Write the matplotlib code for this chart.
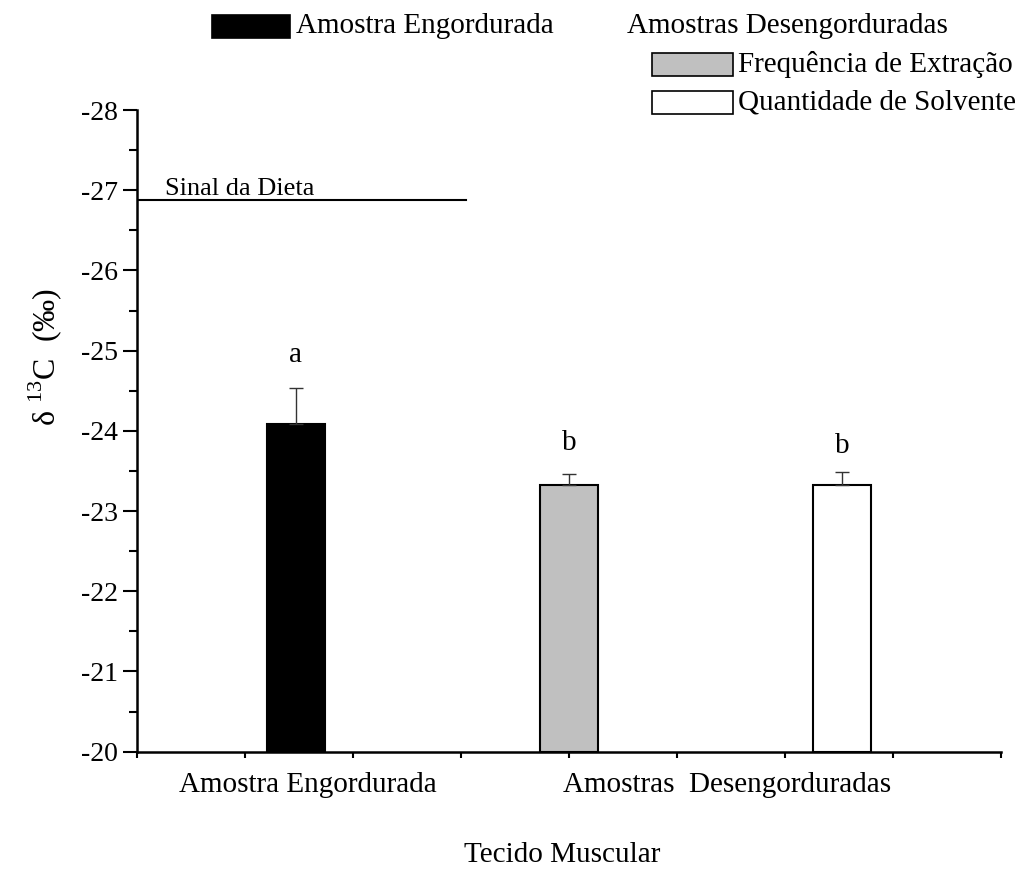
import matplotlib
matplotlib.use("Agg")
import matplotlib.pyplot as plt
from matplotlib.patches import Rectangle

plt.rcParams['font.family'] = ['Liberation Serif', 'DejaVu Serif']
plt.rcParams['mathtext.fontset'] = 'custom'
plt.rcParams['mathtext.rm'] = 'Liberation Serif'
plt.rcParams['axes.unicode_minus'] = False

# data
positions = [1.47, 4.0, 6.53]
values = [-24.08, -23.32, -23.32]
errors = [0.46, 0.14, 0.17]
colors = ['black', '#c0c0c0', 'white']
letters = ['a', 'b', 'b']
letter_y = [-24.95, -23.85, -23.81]
diet_signal = -26.88
diet_end = 3.05
group_labels = ['Amostra Engordurada', 'Amostras  Desengorduradas']
group_pos = [1.58, 5.46]
base = -20

fig = plt.figure(figsize=(10.21, 8.81), dpi=100)
ax = fig.add_axes([0.1342, 0.1468, 0.8462, 0.7283])

heights = [v - base for v in values]
ax.bar(positions, heights, bottom=base, width=0.54, color=colors,
       edgecolor='black', linewidth=1.5, zorder=2)
ax.errorbar(positions, values, yerr=[errors, [0] * 3], fmt='none',
            ecolor='#333333', elinewidth=1, capsize=5, capthick=1, zorder=3)
for x, t, y in zip(positions, letters, letter_y):
    ax.text(x, y, t, ha='center', va='center', fontsize=21)

ax.plot([0, diet_end], [diet_signal, diet_signal], color='black', lw=1.5)
ax.text(0.26, -26.94, 'Sinal da Dieta', fontsize=19, va='baseline')

ax.set_xlim(0, 8)
ax.set_ylim(-20, -28)
ax.set_yticks(range(-20, -29, -1))
ax.set_yticks([-20.5 - i for i in range(8)], minor=True)
ax.set_xticks(range(0, 9))
ax.set_xticklabels([])
ax.tick_params(axis='y', which='major', length=10, width=1.5, labelsize=20, direction='out')
ax.tick_params(axis='y', which='minor', length=6, width=1.5, direction='out')
ax.tick_params(axis='x', which='major', length=4, width=1.5, direction='out')
for s in ['top', 'right']:
    ax.spines[s].set_visible(False)
for s in ['left', 'bottom']:
    ax.spines[s].set_linewidth(1.8)

for lab, x in zip(group_labels, group_pos):
    ax.text(x, -0.052, lab, transform=ax.get_xaxis_transform(),
            ha='center', va='center', fontsize=21)

fig.text(562 / 1021, 1 - 855 / 881, 'Tecido Muscular', ha='center', va='center', fontsize=21)
fig.text(45 / 1021, 1 - 357 / 881, 'δ $^{13}$C  (‰)', rotation=90,
         ha='center', va='center', fontsize=23)

# legend
def patch(x0, y0, x1, y1, fc):
    fig.add_artist(Rectangle((x0 / 1021, 1 - y1 / 881), (x1 - x0) / 1021, (y1 - y0) / 881,
                             transform=fig.transFigure, facecolor=fc,
                             edgecolor='black', linewidth=1.2))

patch(212, 15, 290, 38, 'black')
fig.text(296 / 1021, 1 - 26 / 881, 'Amostra Engordurada', va='center', fontsize=21)
fig.text(627 / 1021, 1 - 26 / 881, 'Amostras Desengorduradas', va='center', fontsize=21)
patch(652, 53, 733, 76, '#c0c0c0')
fig.text(738 / 1021, 1 - 65 / 881, 'Frequência de Extração', va='center', fontsize=21)
patch(652, 91, 733, 114, 'white')
fig.text(738 / 1021, 1 - 102 / 881, 'Quantidade de Solvente', va='center', fontsize=21)

fig.savefig('out.png', dpi=100)
